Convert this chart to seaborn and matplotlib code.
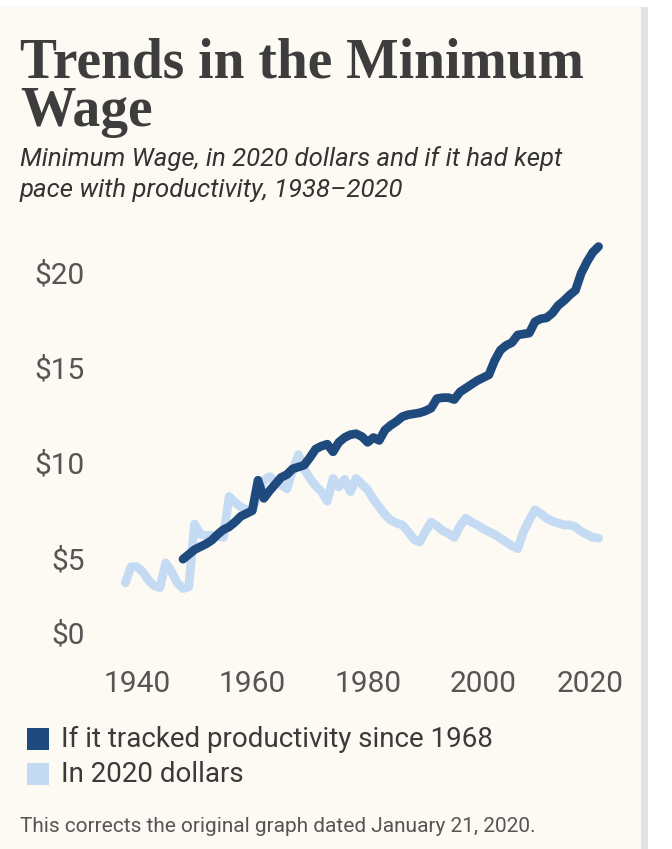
import matplotlib.pyplot as plt
import matplotlib.transforms as mtransforms
from matplotlib.patches import Rectangle
import seaborn as sns

# minimum wage in 2020 dollars, 1938-2020
years_2020 = list(range(1938, 2021))
wage_2020 = [3.9, 4.75,
             4.75, 4.5, 4.05, 3.75, 3.65, 4.95, 4.5, 3.9, 3.6, 3.7,
             7.0, 6.45, 6.4, 6.4, 6.35, 6.3, 8.45, 8.15, 7.9, 7.75,
             7.7, 8.6, 9.3, 9.5, 9.25, 9.05, 8.85, 9.8, 10.65, 9.9,
             9.4, 9.0, 8.7, 8.2, 9.4, 8.95, 9.35, 8.7, 9.4, 9.1,
             8.8, 8.3, 7.9, 7.5, 7.2, 7.05, 6.95, 6.6, 6.2, 6.05,
             6.6, 7.1, 6.9, 6.65, 6.5, 6.3, 6.9, 7.3, 7.1, 6.95,
             6.75, 6.6, 6.45, 6.25, 6.05, 5.85, 5.7, 6.6, 7.2, 7.75,
             7.55, 7.3, 7.15, 7.05, 6.95, 6.95, 6.85, 6.6, 6.45, 6.3,
             6.25]

# minimum wage if it had tracked productivity, 1948-2020
years_prod = list(range(1948, 2021))
wage_prod = [5.15, 5.4,
             5.65, 5.8, 5.95, 6.15, 6.45, 6.7, 6.85, 7.1, 7.4, 7.55,
             7.7, 9.3, 8.35, 8.75, 9.1, 9.45, 9.6, 9.9, 10.0, 10.1,
             10.5, 10.95, 11.1, 11.2, 10.8, 11.3, 11.55, 11.7, 11.75, 11.6,
             11.3, 11.55, 11.4, 11.95, 12.2, 12.4, 12.65, 12.75, 12.8, 12.85,
             12.95, 13.1, 13.6, 13.65, 13.65, 13.55, 13.95, 14.15, 14.35, 14.55,
             14.7, 14.85, 15.6, 16.15, 16.4, 16.55, 16.95, 17.0, 17.05, 17.65,
             17.8, 17.85, 18.1, 18.5, 18.75, 19.05, 19.3, 20.2, 20.8, 21.3,
             21.6]

y_ticks = [0, 5, 10, 15, 20]
y_labels = ['$0', '$5', '$10', '$15', '$20']
x_ticks = [1940, 1960, 1980, 2000, 2020]
x_labels = ['1940', '1960', '1980', '2000', '2020']

series_names = ['If it tracked productivity since 1968', 'In 2020 dollars']

DARK = '#1f4a7e'
LIGHT = '#c4dbf3'
CREAM = '#fdfaf3'

W, H = 672, 849


def fx(x):
    return x / W


def fy(y):
    return 1 - y / H


sns.set_theme(style="white")
plt.rcParams['font.family'] = ['Roboto', 'DejaVu Sans']

fig = plt.figure(figsize=(W / 100, H / 100), dpi=100, facecolor='white')

# card background + grey edge on the right (behind the axes)
fig.patches.append(Rectangle((0, 0), fx(641), fy(7), transform=fig.transFigure,
                             facecolor=CREAM, edgecolor='none', zorder=-5))
fig.patches.append(Rectangle((fx(641), 0), fx(648) - fx(641), fy(7), transform=fig.transFigure,
                             facecolor='#e3e3e3', edgecolor='none', zorder=-5))

ax = fig.add_axes([fx(97), fy(657), fx(632) - fx(97), (657 - 229.5) / H])
ax.set_facecolor('none')

sns.lineplot(x=years_2020, y=wage_2020, color=LIGHT, lw=6.3, ax=ax,
             solid_capstyle='round', solid_joinstyle='round', zorder=2)
sns.lineplot(x=years_prod, y=wage_prod, color=DARK, lw=6.3, ax=ax,
             solid_capstyle='round', solid_joinstyle='round', zorder=3)

ax.axhline(0, color='#d8d8d8', lw=0.9, ls=(0, (1, 1.5)), zorder=1)

ax.set_xlim(1933.1, 2025.8)
ax.set_ylim(0, 22.5)
ax.set_xticks(x_ticks)
ax.set_xticklabels(x_labels)
ax.set_yticks(y_ticks)
ax.set_yticklabels(y_labels)
ax.set_xlabel('')
ax.set_ylabel('')
ax.grid(False)
sns.despine(ax=ax, left=True, bottom=True)
ax.tick_params(axis='both', length=0, labelsize=21.5, labelcolor='#555555')
ax.tick_params(axis='y', pad=8.6)
ax.tick_params(axis='x', pad=9.5)

# labels sit a little above their values, $0 lifted clear of the axis
for lab, v in zip(ax.get_yticklabels(), y_ticks):
    dy = 24 if v == 0 else 4
    lab.set_transform(lab.get_transform() + mtransforms.ScaledTranslation(0, dy / 100, fig.dpi_scale_trans))
last = ax.get_xticklabels()[-1]
last.set_transform(last.get_transform() + mtransforms.ScaledTranslation(-8 / 100, 0, fig.dpi_scale_trans))

# title + subtitle
fig.text(fx(20), fy(77), 'Trends in the Minimum', family=['Liberation Serif'], weight='bold',
         size=40, color='#3d3d3d', va='baseline')
fig.text(fx(20), fy(126), 'Wage', family=['Liberation Serif'], weight='bold',
         size=40, color='#3d3d3d', va='baseline')
fig.text(fx(20), fy(166), 'Minimum Wage, in 2020 dollars and if it had kept', style='italic',
         size=18.5, color='#333333', va='baseline')
fig.text(fx(20), fy(197), 'pace with productivity, 1938\u20132020', style='italic',
         size=18.5, color='#333333', va='baseline')

# legend
for i, (name, col) in enumerate(zip(series_names, [DARK, LIGHT])):
    top = 728 + i * 35
    fig.patches.append(Rectangle((fx(27), fy(top + 22)), fx(22), 22 / H, transform=fig.transFigure,
                                 facecolor=col, edgecolor='none', zorder=2))
    fig.text(fx(61), fy(top + 11), name, size=20, color='#3a3a3a', va='center')

fig.text(fx(20), fy(826), 'This corrects the original graph dated January 21, 2020.',
         size=15, color='#555555', va='center')

plt.savefig('out.png', dpi=100, facecolor=fig.get_facecolor())
